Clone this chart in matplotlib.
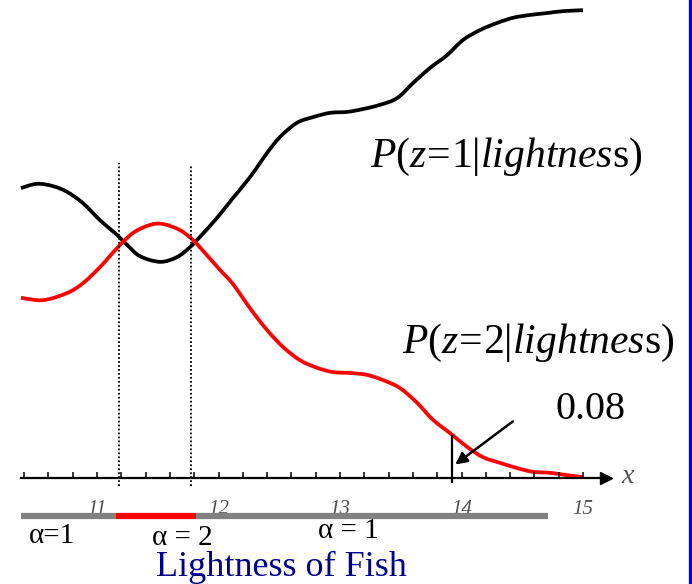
import numpy as np
import matplotlib
matplotlib.use("Agg")
import matplotlib.pyplot as plt
from matplotlib.lines import Line2D
from matplotlib.path import Path
from matplotlib.patches import PathPatch
from matplotlib.ticker import FixedLocator

plt.rcParams['font.family'] = ['Liberation Serif', 'DejaVu Serif']
plt.rcParams['mathtext.fontset'] = 'custom'
plt.rcParams['mathtext.rm'] = 'Liberation Serif'
plt.rcParams['mathtext.it'] = 'Liberation Serif:italic'

# P(z=1|lightness) - black curve
black_x = [10.374, 10.506, 10.638, 10.753, 10.885, 11.025, 11.165, 11.247, 11.354, 11.519,
           11.658, 11.765, 11.848, 11.988, 12.119, 12.259, 12.399, 12.506, 12.646, 12.778,
           12.918, 13.058, 13.189, 13.329, 13.469, 13.601, 13.741, 13.881, 14.012, 14.152,
           14.292, 14.424, 14.564, 14.704, 14.835, 15.0]
black_y = [0.613, 0.622, 0.617, 0.605, 0.581, 0.545, 0.514, 0.493, 0.469, 0.457,
           0.467, 0.488, 0.510, 0.550, 0.592, 0.636, 0.687, 0.721, 0.751, 0.763,
           0.772, 0.774, 0.780, 0.789, 0.803, 0.835, 0.867, 0.894, 0.926, 0.947,
           0.962, 0.973, 0.979, 0.983, 0.987, 0.989]

# P(z=2|lightness) - red curve
red_x = [10.374, 10.556, 10.753, 10.885, 11.025, 11.165, 11.296, 11.436, 11.543, 11.683,
         11.790, 11.905, 12.012, 12.119, 12.259, 12.399, 12.531, 12.671, 12.811, 12.942,
         13.082, 13.222, 13.354, 13.494, 13.634, 13.765, 13.905, 14.045, 14.177, 14.317,
         14.457, 14.588, 14.728, 14.868, 15.0]
red_y = [0.381, 0.376, 0.391, 0.412, 0.446, 0.486, 0.518, 0.535, 0.537, 0.524,
         0.503, 0.471, 0.440, 0.410, 0.359, 0.313, 0.277, 0.249, 0.233, 0.224,
         0.222, 0.218, 0.207, 0.190, 0.159, 0.123, 0.095, 0.066, 0.044, 0.032,
         0.021, 0.013, 0.011, 0.006, 0.002]

# decision boundaries and alpha regions
boundaries = [11.18, 11.77]
boundary_tops = [0.666, 0.660]
bar_edges = [10.374, 11.156, 11.815, 14.712]
bar_colors = ['#808080', '#ff0000', '#808080']
region_labels = [u'\u03b1=1', u'\u03b1 = 2', u'\u03b1 = 1']
region_pos = [(10.63, -0.122), (11.7, -0.127), (13.07, -0.112)]

major_ticks = [11, 12, 13, 14, 15]
marker_x = 13.92
marker_label = '0.08'


def smooth_curve(xs, ys, **kw):
    # bezier path through the read points
    p = np.column_stack([xs, ys])
    n = len(p)
    verts = [p[0]]
    codes = [Path.MOVETO]
    for i in range(n - 1):
        a = p[max(i - 1, 0)]
        d = p[min(i + 2, n - 1)]
        verts += [p[i] + (p[i + 1] - a) / 6, p[i + 1] - (d - p[i]) / 6, p[i + 1]]
        codes += [Path.CURVE4] * 3
    return PathPatch(Path(verts, codes), fill=False, **kw)


fig = plt.figure(figsize=(6.92, 5.84), dpi=100)
ax = fig.add_axes([0, 0, 1, 1])
ax.set_xlim(10.2016, 15.897)
ax.set_ylim(-0.2241, 1.0106)

ax.add_patch(smooth_curve(black_x, black_y, edgecolor='black', lw=2.7, capstyle='butt'))
ax.add_patch(smooth_curve(red_x, red_y, edgecolor='#ff0000', lw=2.7, capstyle='butt'))

ax.vlines(boundaries, -0.017, boundary_tops, colors='black', linestyles=(0, (1, 1.2)), lw=1.3)

# x axis with arrow
for s in ['top', 'left', 'right']:
    ax.spines[s].set_visible(False)
ax.spines['bottom'].set_position(('data', 0))
ax.spines['bottom'].set_bounds(10.374, 15.15)
ax.spines['bottom'].set_linewidth(1.6)
ax.set_yticks([])
ax.xaxis.set_major_locator(FixedLocator(major_ticks))
minor = [t for t in np.arange(10.4, 15.01, 0.2) if abs(t - round(t)) > 1e-6]
ax.xaxis.set_minor_locator(FixedLocator(minor))
ax.tick_params(axis='x', which='both', direction='in', length=4.5, width=1.1, pad=16)
ax.tick_params(axis='x', which='major', labelsize=15, labelcolor='#505050')
for lab in ax.get_xticklabels():
    lab.set_fontstyle('italic')
ax.plot(15.19, 0, marker='>', ms=9, color='black', clip_on=False)
ax.text(15.37, 0.003, 'x', fontsize=20, style='italic', color='#555555', ha='center', va='center')

# alpha bar under the axis
for i in range(len(bar_colors)):
    ax.plot(bar_edges[i:i + 2], [-0.080, -0.080], color=bar_colors[i], lw=4.5,
            solid_capstyle='butt', zorder=4)
for lab, (px, py) in zip(region_labels, region_pos):
    ax.text(px, py, lab, fontsize=21, ha='center', va='center')

ax.text(12.52, -0.190, 'Lightness of Fish', fontsize=26, color='#00008b', ha='center', va='center')

# annotation at marker
top = np.interp(marker_x, red_x, red_y)
ax.vlines(marker_x, -0.011, top, colors='black', lw=1.6)
ax.annotate('', xy=(marker_x + 0.01, 0.025), xytext=(14.44, 0.123),
            arrowprops=dict(arrowstyle='-|>,head_length=0.7,head_width=0.35', color='black', lw=1.8))
ax.text(15.06, 0.145, marker_label, fontsize=29, ha='center', va='center')

ax.text(13.247, 0.657, r'$P(z\!=\!1|lightnes\mathrm{s})$', fontsize=30, ha='left', va='baseline')
ax.text(13.51, 0.265, r'$P(z\!=\!2|lightnes\mathrm{s})$', fontsize=30, ha='left', va='baseline')

fig.add_artist(Line2D([0.9978, 0.9978], [0, 1], transform=fig.transFigure, color='#0000ff', lw=2.4))

fig.savefig('out.png', dpi=100)
